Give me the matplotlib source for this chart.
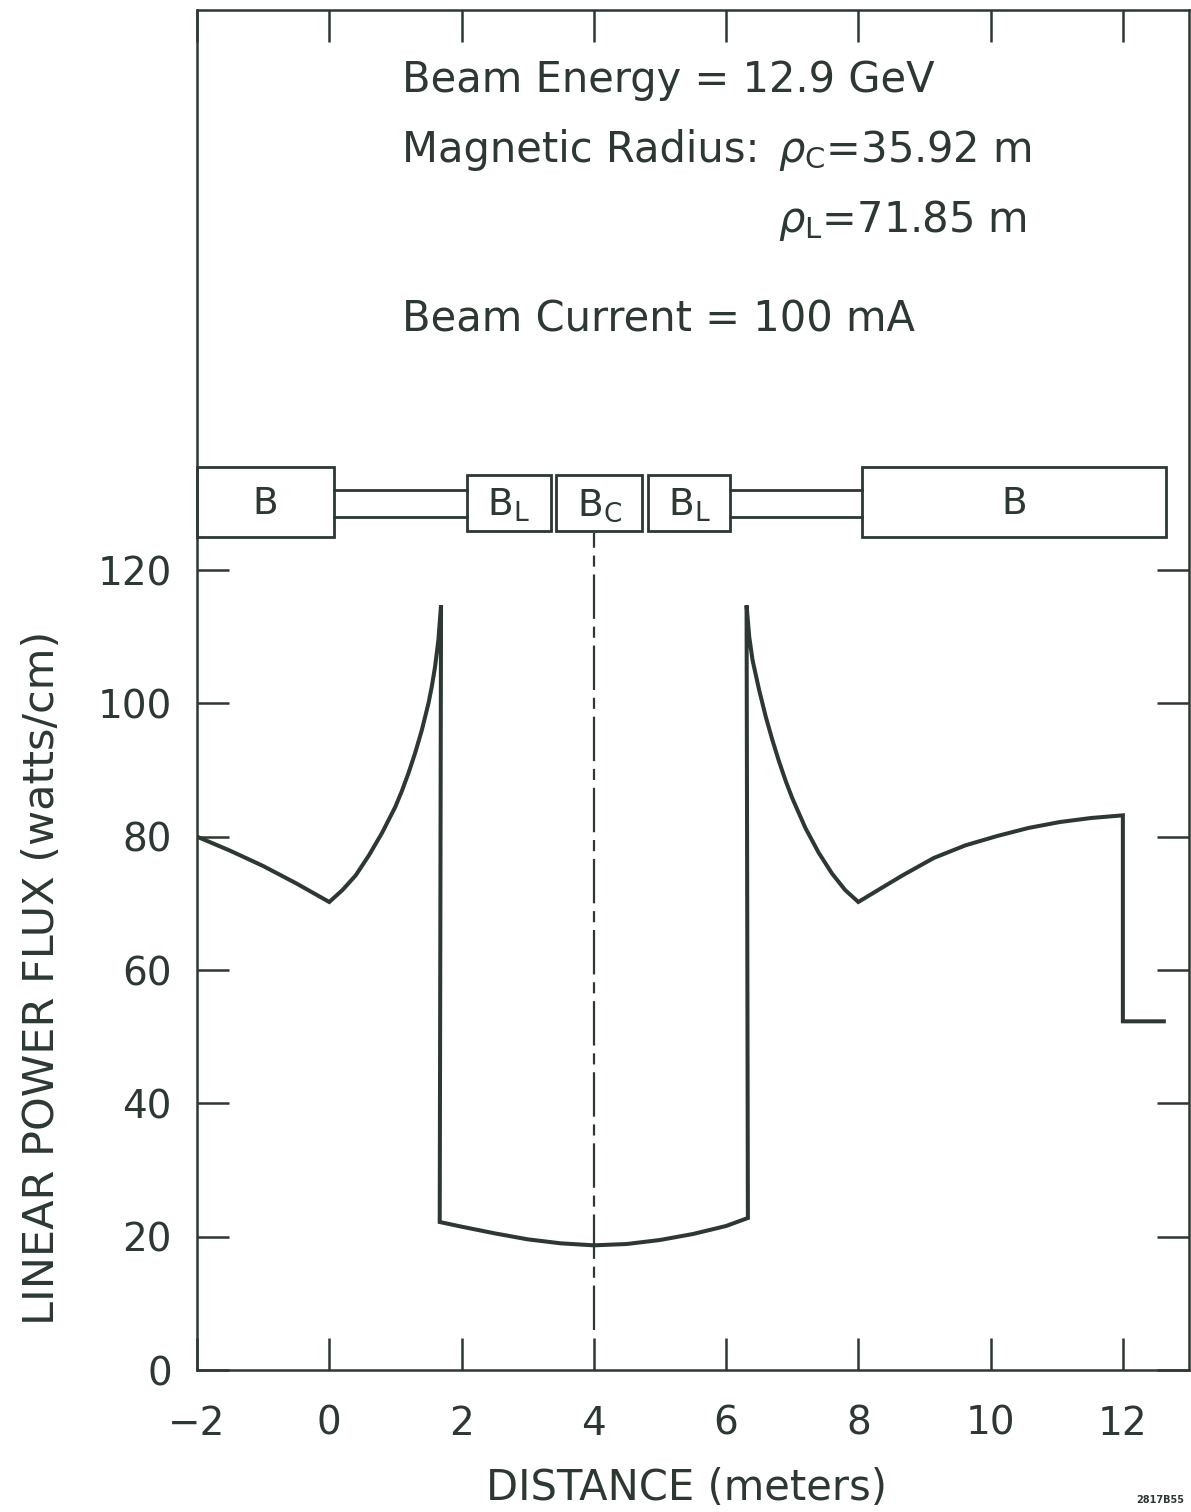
import matplotlib
matplotlib.use("Agg")
import matplotlib.pyplot as plt
from matplotlib.patches import Rectangle
from matplotlib.ticker import FixedLocator

plt.rcParams['font.family'] = ['DejaVu Sans']
plt.rcParams['mathtext.fontset'] = 'dejavusans'

INK = '#2d3832'
W, H = 1191, 1512

# --- curve (distance in m, power flux in W/cm) ---
left_x = [-2.0, -1.5, -1.0, -0.5, 0.0]
left_y = [80.0, 77.9, 75.6, 73.0, 70.2]

rise_x = [0.2, 0.4, 0.6, 0.8, 1.0, 1.1, 1.2, 1.3, 1.4, 1.5, 1.55, 1.6, 1.65, 1.69]
rise_y = [72.0, 74.2, 77.2, 80.6, 84.5, 86.9, 89.6, 92.6, 96.0, 100.0, 102.5, 105.5, 109.5, 114.7]

bottom_x = [1.67, 2.0, 2.5, 3.0, 3.5, 4.0, 4.5, 5.0, 5.5, 6.0, 6.33]
bottom_y = [22.2, 21.5, 20.5, 19.6, 19.0, 18.7, 18.9, 19.5, 20.4, 21.6, 22.8]

fall_x = [6.31, 6.35, 6.4, 6.5, 6.6, 6.7, 6.8, 6.9, 7.0, 7.2, 7.4, 7.6, 7.8, 8.0]
fall_y = [114.7, 110.0, 106.5, 102.0, 98.0, 94.5, 91.3, 88.4, 85.8, 81.3, 77.6, 74.5, 72.0, 70.2]

right_x = [8.35, 8.67, 9.14, 9.62, 10.1, 10.57, 11.05, 11.52, 12.0, 12.0, 12.65]
right_y = [72.3, 74.2, 76.8, 78.7, 80.1, 81.3, 82.2, 82.8, 83.2, 52.3, 52.3]

# --- magnet layout strip ---
magnet_labels = ['B', r'$\mathrm{B}_\mathrm{L}$', r'$\mathrm{B}_\mathrm{C}$', r'$\mathrm{B}_\mathrm{L}$', 'B']
magnet_start = [-2.0, 2.08, 3.43, 4.82, 8.05]
magnet_end = [0.07, 3.35, 4.73, 6.06, 12.65]
magnet_big = [True, False, False, False, True]
pipe_start = [0.07, 6.06]
pipe_end = [2.08, 8.05]
center_x = 4.0

x_ticks = [-2, 0, 2, 4, 6, 8, 10, 12]
y_ticks = [0, 20, 40, 60, 80, 100, 120]

fig = plt.figure(figsize=(W / 100, H / 100), dpi=100)
ax = fig.add_axes([197 / W, 1 - 1370 / H, (1189 - 197) / W, (1370 - 10) / H])
ax.set_xlim(-2, 13)
ax.set_ylim(0, 204)

curve_x = left_x + rise_x + bottom_x + fall_x + right_x
curve_y = left_y + rise_y + bottom_y + fall_y + right_y
ax.plot(curve_x, curve_y, color=INK, lw=2.9, solid_joinstyle='miter', solid_capstyle='butt')

# centre line of the straight section
ax.plot([center_x, center_x], [6, 125.5], color=INK, lw=1.6,
        linestyle=(0, (20, 3.5, 5, 3.5)))

# magnets
for lab, x0, x1, big in zip(magnet_labels, magnet_start, magnet_end, magnet_big):
    y0, y1 = (125.0, 135.4) if big else (125.8, 134.2)
    ax.add_patch(Rectangle((x0, y0), x1 - x0, y1 - y0, fill=False,
                           edgecolor=INK, lw=2.0, clip_on=False))
    ax.text((x0 + x1) / 2, (y0 + y1) / 2 - 0.3, lab, ha='center', va='center',
            fontsize=27, color=INK)
for x0, x1 in zip(pipe_start, pipe_end):
    ax.plot([x0, x1], [127.9, 127.9], color=INK, lw=2.0)
    ax.plot([x0, x1], [132.0, 132.0], color=INK, lw=2.0)

# axes styling
for s in ax.spines.values():
    s.set_color(INK)
    s.set_linewidth(1.8)
ax.xaxis.set_major_locator(FixedLocator(x_ticks))
ax.yaxis.set_major_locator(FixedLocator(y_ticks))
ax.tick_params(direction='in', length=23, width=1.8, color=INK, labelcolor=INK,
               labelsize=28, top=True, right=True)
ax.tick_params(axis='x', pad=25)
ax.tick_params(axis='y', pad=18)

ax.set_xlabel('DISTANCE (meters)', fontsize=30, color=INK, va='center')
ax.xaxis.set_label_coords((686 - 197) / 992, -(1488 - 1370) / 1360)
ax.set_ylabel('LINEAR POWER FLUX (watts/cm)', fontsize=31, color=INK, va='center')
ax.yaxis.set_label_coords((42 - 197) / 992, (1370 - 978) / 1360)


def fig_xy(px, py):
    return px / W, 1 - py / H


fig.text(*fig_xy(402, 92), 'Beam Energy = 12.9 GeV', fontsize=30, color=INK, va='baseline')
fig.text(*fig_xy(402, 162), 'Magnetic Radius:', fontsize=30, color=INK, va='baseline')
fig.text(*fig_xy(778, 162), r'$\rho_\mathrm{C}$=35.92 m', fontsize=30, color=INK, va='baseline')
fig.text(*fig_xy(778, 232), r'$\rho_\mathrm{L}$=71.85 m', fontsize=30, color=INK, va='baseline')
fig.text(*fig_xy(402, 331), 'Beam Current = 100 mA', fontsize=30, color=INK, va='baseline')
fig.text(*fig_xy(1160, 1500), '2817B55', fontsize=7, fontweight='bold', color=INK,
         ha='center', va='center')

fig.savefig('out.png', dpi=100, facecolor='white')
